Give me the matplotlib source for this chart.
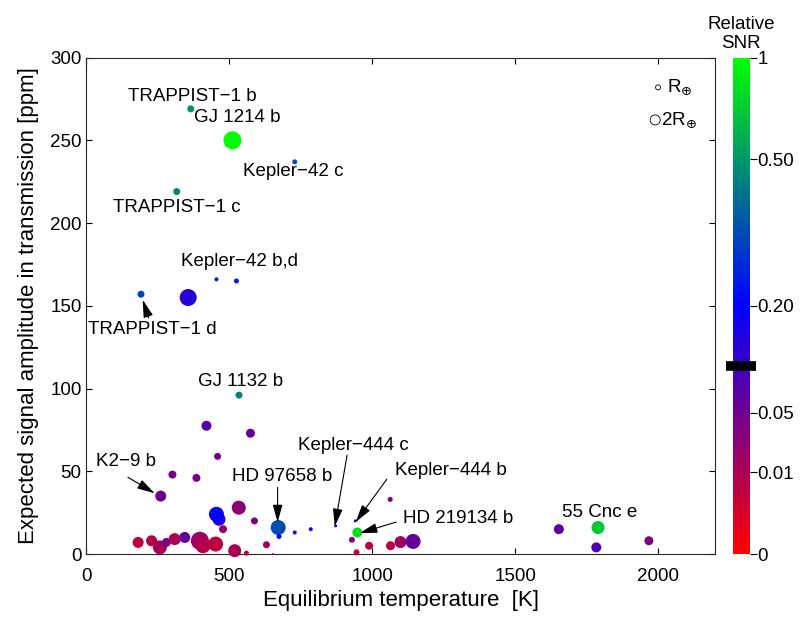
import numpy as np
import matplotlib
matplotlib.use('Agg')
import matplotlib.pyplot as plt
from matplotlib.colors import LinearSegmentedColormap, FuncNorm
from matplotlib.cm import ScalarMappable

plt.rcParams['font.family'] = ['Liberation Sans', 'DejaVu Sans']
plt.rcParams['font.size'] = 13.5

# planets: equilibrium temperature [K], amplitude [ppm], relative SNR, radius [R_earth]
teq = [365, 511, 729, 316, 455, 525, 191, 356, 534,
       420, 574, 459, 301, 385, 260, 1063,
       533, 478, 588, 464, 455, 671, 674, 729, 785, 872, 941,
       929, 989, 945, 1064, 1099, 1143, 1653, 1784, 1968,
       560, 653, 630, 519, 181, 228, 257, 280, 309, 344, 397, 408, 452,
       948, 1790]
amp = [269, 250, 237, 219, 166, 165, 157, 155, 96,
       77.5, 73, 59, 48, 46, 35, 33,
       28, 15, 20, 21, 24, 16, 10.6, 13, 15, 17, 20,
       8.6, 5, 1, 5, 7.2, 7.6, 15, 4, 8,
       0.5, 0, 5.6, 2, 7, 8, 4, 7, 9, 10, 8, 5, 6,
       13, 16]
snr = [0.49, 1.0, 0.35, 0.46, 0.255, 0.255, 0.33, 0.143, 0.46,
       0.077, 0.055, 0.045, 0.045, 0.041, 0.049, 0.036,
       0.031, 0.026, 0.041, 0.152, 0.2, 0.354, 0.2, 0.2, 0.2, 0.2, 0.2,
       0.026, 0.008, 0.008, 0.008, 0.02, 0.062, 0.077, 0.089, 0.041,
       0.008, 0.005, 0.02, 0.013, 0.008, 0.009, 0.013, 0.045, 0.0096, 0.062, 0.02, 0.009, 0.008,
       0.845, 0.736]
radius = [1.4, 3.6, 1.0, 1.4, 0.8, 1.0, 1.4, 3.4, 1.4,
          2.0, 1.8, 1.4, 1.6, 1.6, 2.2, 1.0,
          2.8, 1.6, 1.4, 2.6, 3.0, 3.0, 1.0, 0.8, 0.8, 0.6, 0.6,
          1.2, 1.6, 1.2, 1.8, 2.4, 3.0, 2.0, 2.0, 1.8,
          1.0, 0.4, 1.4, 2.6, 2.2, 2.2, 2.8, 1.8, 2.4, 2.2, 3.6, 3.0, 3.0,
          2.0, 2.6]

# labels: text, text position, arrow tail, arrow tip (None = no arrow)
labels = [
    ("TRAPPIST\u22121 b", (369, 276.7), None, None),
    ("GJ 1214 b", (528, 264), None, None),
    ("Kepler\u221242 c", (724, 231.4), None, None),
    ("TRAPPIST\u22121 c", (316, 209.4), None, None),
    ("Kepler\u221242 b,d", (537, 176.7), None, None),
    ("TRAPPIST\u22121 d", (232, 135.5), (218, 142.7), (197, 153.6)),
    ("GJ 1132 b", (540, 104.5), None, None),
    ("K2\u22129 b", (138, 56), (145, 46.4), (239, 36.7)),
    ("HD 97658 b", (685, 47), (669, 40.3), (669, 19.1)),
    ("Kepler\u2212444 c", (933, 65.8), (912, 59.7), (869, 16.7)),
    ("Kepler\u2212444 b", (1276, 50.3), (1051, 45.2), (942, 19.3)),
    ("HD 219134 b", (1301, 21.5), (1084, 19.3), (956, 12.6)),
    ("55 Cnc e", (1794, 25.3), None, None),
]

# colour scale of the colorbar (SNR value -> position along the bar)
cb_ticks = [0, 0.01, 0.05, 0.2, 0.5, 1]
cb_ticklabels = ['0', '0.01', '0.05', '0.20', '0.50', '1']
cb_pos = [0, 0.165, 0.285, 0.5, 0.795, 1]
threshold = 0.116

cmap = LinearSegmentedColormap.from_list(
    'snr', [(0.0, (1, 0, 0)), (0.5, (0, 0, 1)), (1.0, (0, 1, 0))])
norm = FuncNorm((lambda v: np.interp(v, cb_ticks, cb_pos),
                 lambda t: np.interp(t, cb_pos, cb_ticks)), vmin=0, vmax=1)

fig = plt.figure(figsize=(8, 6.19), dpi=100)
ax = fig.add_axes([0.108, 0.105, 0.786, 0.802])

# marker diameter 5 px per earth radius
sizes = (np.array(radius) * 5 * 72 / 100.0) ** 2
ax.scatter(teq, amp, s=sizes, c=snr, cmap=cmap, norm=norm,
           edgecolors='none', zorder=3, clip_on=False)

for txt, pos, tail, tip in labels:
    ax.text(pos[0], pos[1], txt, ha='center', va='center')
    if tail is not None:
        ax.annotate('', xy=tip, xytext=tail,
                    arrowprops=dict(arrowstyle='-|>,head_length=0.8,head_width=0.22',
                                    color='k', lw=0.8, shrinkA=0, shrinkB=0))

# size legend
leg_r = [1, 2]
ax.scatter([2000, 1990], [282, 262.3], s=(np.array(leg_r) * 5 * 72 / 100.0) ** 2,
           facecolors='none', edgecolors='k', linewidths=0.6)
ax.text(2032, 282, r"R$_{\oplus}$", ha='left', va='center')
ax.text(2012, 262.3, r"2R$_{\oplus}$", ha='left', va='center')

ax.set_xlim(0, 2200)
ax.set_ylim(0, 300)
ax.set_xticks([0, 500, 1000, 1500, 2000])
ax.set_yticks([0, 50, 100, 150, 200, 250, 300])
ax.tick_params(direction='in', length=4.5, top=True, right=True, width=0.8)
ax.tick_params(axis='x', pad=10)
for sp in ax.spines.values():
    sp.set_linewidth(0.8)
    sp.set_color('#262626')
ax.set_xlabel("Equilibrium temperature  [K]", fontsize=16, labelpad=4)
ax.set_ylabel("Expected signal amplitude in transmission [ppm]", fontsize=16, labelpad=8)

# colorbar
cax = fig.add_axes([0.916, 0.105, 0.021, 0.802])
sm = ScalarMappable(norm=norm, cmap=cmap)
cb = fig.colorbar(sm, cax=cax, ticks=cb_ticks)
cb.set_ticklabels(cb_ticklabels)
cb.outline.set_visible(False)
cax.tick_params(direction='out', length=5, width=0.8, pad=0.5)
cax.axhline(threshold, xmin=-0.38, xmax=1.38, color='k', lw=7,
            solid_capstyle='butt', clip_on=False)
cax.text(0.5, 1.012, "Relative\nSNR", transform=cax.transAxes,
         ha='center', va='bottom', linespacing=1.15)

fig.savefig('out.png', dpi=100)
